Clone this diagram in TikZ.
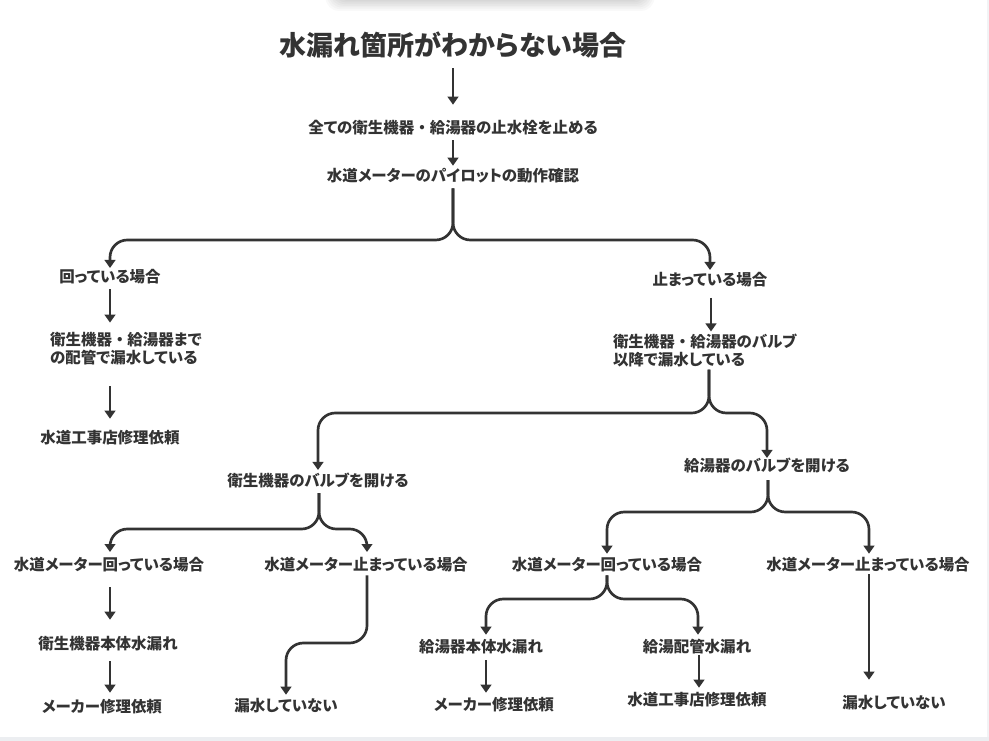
\documentclass[tikz,border=0pt]{standalone}
\usepackage{fontspec}
\setmainfont{Noto Sans CJK JP}[RawFeature=+palt]
\newfontfamily\plainjp{Noto Sans CJK JP}
\newcommand\fwdot{{\plainjp\bfseries ・}}
\usetikzlibrary{arrows.meta,calc}
\definecolor{ink}{HTML}{333333}
\definecolor{band}{HTML}{ECEEF1}
\definecolor{edgeline}{HTML}{F2F3F5}
\begin{document}
\begin{tikzpicture}[x=0.75pt,y=-0.75pt,
  lbl/.style={font=\fontsize{11.6}{13.5}\selectfont\bfseries, text=ink, inner sep=0pt, outer sep=0pt, text height=9pt, text depth=1.5pt},
  lbltwo/.style={font=\fontsize{11.6}{13.5}\selectfont\bfseries, text=ink, inner sep=0pt, outer sep=0pt, align=left},
  ttl/.style={font=\fontsize{20.25}{24}\selectfont\bfseries, text=ink, inner sep=0pt, outer sep=0pt, text height=16pt, text depth=2.5pt},
  arr/.style={draw=ink, line width=2pt, -{Triangle[width=8pt,length=6pt]}},
  branch/.style={arr, rounded corners=13pt}]
\useasboundingbox (0,0) rectangle (989,741);
\fill[white] (0,0) rectangle (989,741);
% top card shadow
\foreach \i in {1,...,7}{
  \fill[black, opacity=0.022, rounded corners=10pt] (336-\i*1.5,-30) rectangle (644+\i*1.5,{-1+\i*1.7});
}
% bottom band and right edge
\fill[band] (0,737) rectangle (989,741);
\fill[edgeline] (987,0) rectangle (989,737);

% nodes
\node[ttl] (title) at (453,47) {水漏れ箇所がわからない場合};
\node[lbl] (stop) at (453,129) {全ての衛生機器\fwdot 給湯器の止水栓を止める};
\node[lbl] (pilot) at (453,177) {水道メーターのパイロットの動作確認};
\node[lbl] (rot) at (110,278) {回っている場合};
\node[lbltwo] (pipeleak) at (126,349) {衛生機器\fwdot 給湯器まで\\の配管で漏水している};
\node[lbl] (rotfix) at (110,439) {水道工事店修理依頼};
\node[lbl] (tom) at (710,281) {止まっている場合};
\node[lbltwo, anchor=west] (valveleak) at (613,350.5) {衛生機器\fwdot 給湯器のバルブ\\以降で漏水している};
\node[lbl] (eisei) at (318,482) {衛生機器のバルブを開ける};
\node[lbl] (kyuto) at (767,467) {給湯器のバルブを開ける};
\node[lbl] (mr1) at (109,565) {水道メーター回っている場合};
\node[lbl] (ms1) at (366,565) {水道メーター止まっている場合};
\node[lbl] (mr2) at (607,565) {水道メーター回っている場合};
\node[lbl] (ms2) at (868,565) {水道メーター止まっている場合};
\node[lbl] (honbai1) at (108,644) {衛生機器本体水漏れ};
\node[lbl] (maker1) at (102,707) {メーカー修理依頼};
\node[lbl] (nl1) at (286,706) {漏水していない};
\node[lbl] (honbai2) at (481,647) {給湯器本体水漏れ};
\node[lbl] (maker2) at (494,705) {メーカー修理依頼};
\node[lbl] (haikan) at (697,647) {給湯配管水漏れ};
\node[lbl] (fix2) at (697,700) {水道工事店修理依頼};
\node[lbl] (nl2) at (894,703) {漏水していない};

% straight connectors
\draw[arr] ($(title.south)+(0,8.7)$) -- ($(stop.north)+(0,-17.3)$);
\draw[arr] ($(stop.south)+(0,4.3)$) -- ($(pilot.north)+(0,-4.3)$);
\draw[arr] ($(rot.south)+(0,4.3)$) -- ($(rot.south |- pipeleak.north)+(0,-10)$);
\draw[arr] ($(rotfix.north |- pipeleak.south)+(0,21)$) -- ($(rotfix.north)+(0,-13.3)$);
\draw[arr] ($(tom.south)+(1,10)$) -- ($(tom.south |- valveleak.north)+(1,-2.5)$);
\draw[arr] ($(mr1.south)+(1,15.3)$) -- ($(mr1.south |- honbai1.north)+(1,-17.3)$);
\draw[arr] ($(honbai1.south)+(2,10.3)$) -- ($(honbai1.south |- maker1.north)+(2,-7.3)$);
\draw[arr] ($(honbai2.south)+(5,6.3)$) -- ($(honbai2.south |- maker2.north)+(5,-5.3)$);
\draw[arr] ($(haikan.south)+(2,1.3)$) -- ($(haikan.south |- fix2.north)+(2,-5.3)$);
\draw[arr] ($(ms2.south)+(1,2.3)$) -- ($(ms2.south |- nl2.north)+(1,-16.3)$);

% branching connectors
\draw[branch] ($(pilot.south)+(0,4.3)$) -- (453,240) -- (110,240) -- ($(rot.north)+(0,-3)$);
\draw[branch] ($(pilot.south)+(0,4.3)$) -- (453,240) -- (710,240) -- ($(tom.north)+(0,-4)$);

\draw[branch] ($(tom.south |- valveleak.south)+(-1,2.5)$) -- (709,413) -- (318,413) -- ($(eisei.north)+(0,-5)$);
\draw[branch] ($(tom.south |- valveleak.south)+(-1,2.5)$) -- (709,413) -- (767,413) -- ($(kyuto.north)+(0,-2)$);

\draw[branch] ($(eisei.south)+(1,4)$) -- (319,529) -- (110,529) -- ($(mr1.north)+(1,-6)$);
\draw[branch] ($(eisei.south)+(1,4)$) -- (319,529) -- (367,529) -- ($(ms1.north)+(1,-6)$);

\draw[branch] ($(kyuto.south)+(1,6)$) -- (768,512) -- (607,512) -- ($(mr2.north)+(0,-4.3)$);
\draw[branch] ($(kyuto.south)+(1,6)$) -- (768,512) -- (869,512) -- ($(ms2.north)+(1,-4.3)$);

\draw[branch] ($(mr2.south)+(0,3.3)$) -- (607,599) -- (486,599) -- ($(honbai2.north)+(5,-5.3)$);
\draw[branch] ($(mr2.south)+(0,3.3)$) -- (607,599) -- (698,599) -- ($(haikan.north)+(1,-5.3)$);

\draw[branch] ($(ms1.south)+(1,3.3)$) -- (367,643) -- (286,643) -- ($(nl1.north)+(0,-4.3)$);
\end{tikzpicture}
\end{document}
